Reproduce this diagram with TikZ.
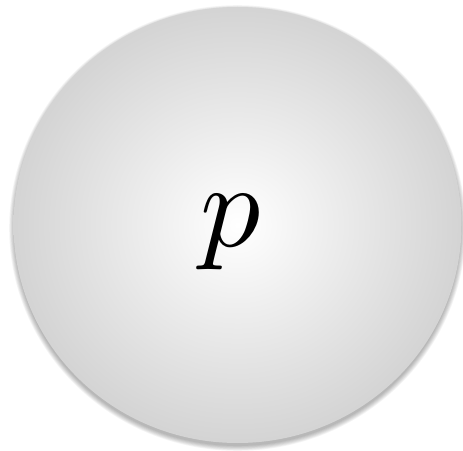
\documentclass[tikz,border=0pt]{standalone}
\usetikzlibrary{shadings}
\begin{document}
\begin{tikzpicture}[x=1pt,y=1pt,
  shadowlayer/.style={fill=black,fill opacity=0.045,draw=none},
  ball/.style={inner color=white,outer color=gray!34,draw=none}]
\useasboundingbox (0,0) rectangle (463,450);
\fill[white] (0,0) rectangle (463,450);
\foreach \i in {0,1,2,3,4,5,6} {
  \path[shadowlayer] (237.5,222) ellipse ({223.5+\i*0.8} and {218+\i*0.8});
}
\shade[ball] (237.5,225) ellipse (224 and 218);
\node[inner sep=0pt,scale=12] (p) at (231,217.5) {$p$};
\end{tikzpicture}
\end{document}
